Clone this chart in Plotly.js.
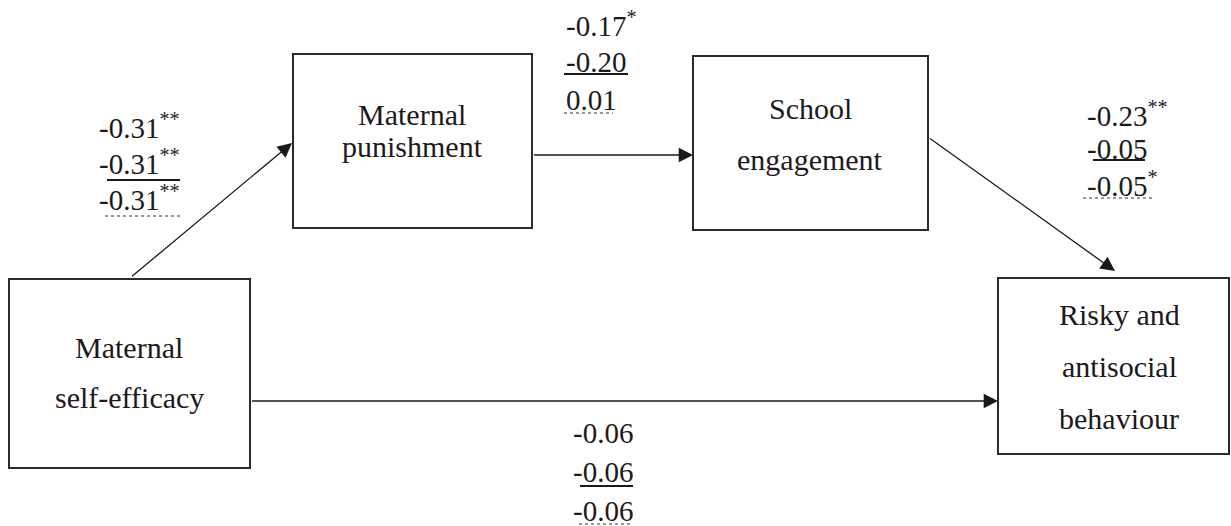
<!DOCTYPE html>
<html>
<head>
<meta charset="utf-8">
<script src="https://cdn.plot.ly/plotly-3.0.1.min.js"></script>
<style>html,body{margin:0;padding:0;background:#fff;}#chart{width:1231px;height:526px;}</style>
</head>
<body>
<div id="chart"></div>
<script>
// ---- data ----
const nodeNames = ["selfEfficacy", "punishment", "engagement", "risky"];
const nodeLabels = [
  ["Maternal", "self-efficacy"],
  ["Maternal", "punishment"],
  ["School", "engagement"],
  ["Risky and", "antisocial", "behaviour"]
];
const pathFrom = [0, 1, 2, 0];
const pathTo   = [1, 2, 3, 3];
const coefModel1 = ["-0.31", "-0.17", "-0.23", "-0.06"];
const sigModel1  = ["**", "*", "**", ""];
const coefModel2 = ["-0.31", "-0.20", "-0.05", "-0.06"];
const sigModel2  = ["**", "", "", ""];
const coefModel3 = ["-0.31", "0.01", "-0.05", "-0.06"];
const sigModel3  = ["**", "", "*", ""];

// ---- layout config (positions / styles) ----
const FONT = "Liberation Serif";
const TXT = "#1c1a1b";
const boxes = [
  {x0: 9,   y0: 279, x1: 250,  y1: 468, cx: 129, lines: [347, 397]},
  {x0: 293, y0: 54,  x1: 532,  y1: 228, cx: 412, lines: [114, 146]},
  {x0: 693, y0: 56,  x1: 928,  y1: 230, cx: 810, lines: [108, 159]},
  {x0: 998, y0: 278, x1: 1229, y1: 454, cx: 1119, lines: [314, 366, 418]}
];
const arrows = [
  {tx: 130, ty: 278, hx: 292, hy: 143},
  {tx: 532, ty: 155, hx: 693, hy: 155},
  {tx: 928, ty: 137, hx: 1115, hy: 271},
  {tx: 250, ty: 401, hx: 998, hy: 401}
];
const labelPos = [
  {x: 97,   y: 126, dy: 36, uo: 18, doff: 18, u: [107, 180], d: [105, 180]},
  {x: 564,  y: 24,  dy: 38, uo: 12, doff: 13, u: [564, 628], d: [564, 613]},
  {x: 1085, y: 114, dy: 35, uo: 11, doff: 14, u: [1093, 1145], d: [1083, 1155]},
  {x: 571,  y: 433, dy: 39, uo: 14, doff: 13, u: [580, 633], d: [579, 632]}
];

const shapes = [];
const annotations = [];

boxes.forEach((b, i) => {
  shapes.push({type: "rect", xref: "x", yref: "y", x0: b.x0, x1: b.x1, y0: b.y0, y1: b.y1,
    line: {color: "#2b2b2b", width: 2}, fillcolor: "rgba(0,0,0,0)"});
  nodeLabels[i].forEach((t, k) => {
    annotations.push({xref: "x", yref: "y", x: b.cx, y: b.lines[k], text: t, showarrow: false,
      xanchor: "center", yanchor: "middle", font: {family: FONT, size: 30, color: TXT}});
  });
});

arrows.forEach((a, i) => {
  annotations.push({xref: "x", yref: "y", axref: "x", ayref: "y", x: a.hx, y: a.hy, ax: a.tx, ay: a.ty,
    text: " ", showarrow: true, arrowhead: 2, arrowsize: 2.2, arrowwidth: 1.3, arrowcolor: "#1a1a1a",
    standoff: 0, startstandoff: 0, font: {family: FONT, size: 2}});
});

const models = [[coefModel1, sigModel1], [coefModel2, sigModel2], [coefModel3, sigModel3]];
labelPos.forEach((p, i) => {
  models.forEach((m, k) => {
    const s = m[1][i] ? m[0][i] + "<sup>" + m[1][i] + "</sup>" : m[0][i];
    annotations.push({xref: "x", yref: "y", x: p.x, y: p.y + k * p.dy, text: s, showarrow: false,
      xanchor: "left", yanchor: "middle", font: {family: FONT, size: 29, color: TXT}});
  });
  const uy = p.y + p.dy + p.uo;
  const dy = p.y + 2 * p.dy + p.doff;
  shapes.push({type: "line", xref: "x", yref: "y", x0: p.u[0], x1: p.u[1], y0: uy, y1: uy,
    line: {color: "#1a1a1a", width: 2}});
  shapes.push({type: "line", xref: "x", yref: "y", x0: p.d[0], x1: p.d[1], y0: dy, y1: dy,
    line: {color: "#333", width: 1, dash: "dot"}});
});

const layout = {
  width: 1231, height: 526,
  margin: {l: 0, r: 0, t: 0, b: 0},
  paper_bgcolor: "#fff", plot_bgcolor: "#fff",
  showlegend: false,
  font: {family: FONT, color: TXT},
  xaxis: {range: [0, 1231], visible: false, fixedrange: true},
  yaxis: {range: [526, 0], visible: false, fixedrange: true},
  shapes: shapes,
  annotations: annotations
};

Plotly.newPlot("chart", [{x: [], y: [], type: "scatter", mode: "markers", hoverinfo: "skip"}], layout,
  {staticPlot: true, displayModeBar: false});
</script>
</body>
</html>
